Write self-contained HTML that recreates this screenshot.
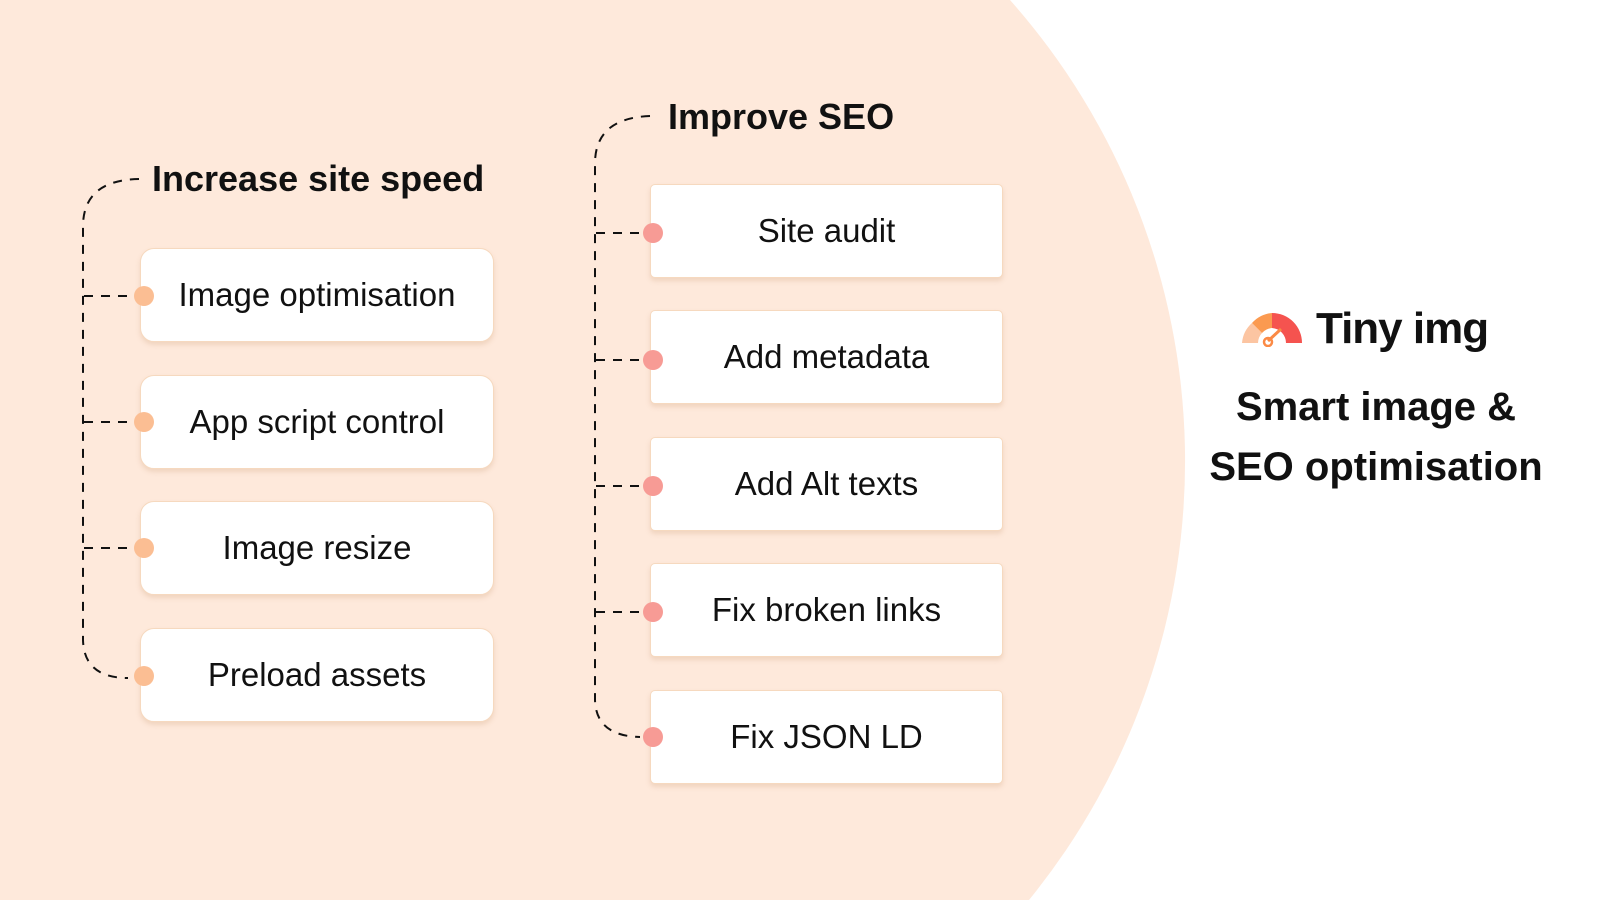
<!DOCTYPE html>
<html><head><meta charset="utf-8"><style>
html,body{margin:0;width:1600px;height:900px;overflow:hidden}
body{background:#fff;font-family:"Liberation Sans",sans-serif;position:relative}
.box{position:absolute;background:#fff;border:1px solid #f6d9bf;box-shadow:0 3px 5px rgba(200,150,110,.25);display:flex;align-items:center;justify-content:center;font-size:33px;color:#111}
.l{left:140px;width:352px;height:92px;border-radius:14px}
.r{left:650px;width:351px;height:92px;border-radius:5px}
.dot{position:absolute;width:20px;height:20px;border-radius:50%}
.h{position:absolute;font-size:36px;font-weight:bold;color:#111;white-space:nowrap}
</style></head><body>
<svg width="1600" height="900" style="position:absolute;left:0;top:0">
<path d="M0 0 H1010 A695 695 0 0 1 1029 900 H0 Z" fill="#fee9db"/>
<g fill="none" stroke="#111" stroke-width="2" stroke-dasharray="9,8">
<path d="M139 179 Q84 180 83 225 L83 640 Q84 678 128 678"/>
<path d="M84 296 H128 M84 422 H128 M84 548 H128"/>
<path d="M650 116 Q596 118 595 162 L595 700 Q596 736 640 737"/>
<path d="M596 233 H640 M596 360 H640 M596 486 H640 M596 612 H640"/>
</g></svg>
<div class="h" style="left:152px;top:158px">Increase site speed</div>
<div class="h" style="left:668px;top:96px">Improve SEO</div>
<div class="box l" style="top:248px">Image optimisation</div>
<div class="box l" style="top:375px">App script control</div>
<div class="box l" style="top:501px">Image resize</div>
<div class="box l" style="top:628px">Preload assets</div>
<div class="dot" style="left:134px;top:286px;background:#fbbe93"></div>
<div class="dot" style="left:134px;top:412px;background:#fbbe93"></div>
<div class="dot" style="left:134px;top:538px;background:#fbbe93"></div>
<div class="dot" style="left:134px;top:666px;background:#fbbe93"></div>
<div class="box r" style="top:184px">Site audit</div>
<div class="box r" style="top:310px">Add metadata</div>
<div class="box r" style="top:437px">Add Alt texts</div>
<div class="box r" style="top:563px">Fix broken links</div>
<div class="box r" style="top:690px">Fix JSON LD</div>
<div class="dot" style="left:643px;top:223px;background:#f79b95"></div>
<div class="dot" style="left:643px;top:350px;background:#f79b95"></div>
<div class="dot" style="left:643px;top:476px;background:#f79b95"></div>
<div class="dot" style="left:643px;top:602px;background:#f79b95"></div>
<div class="dot" style="left:643px;top:727px;background:#f79b95"></div>
<svg width="64" height="36" style="position:absolute;left:1240px;top:311px" viewBox="0 0 64 36">
<path d="M2 32 A30 30 0 0 1 12 12 L22 22 A15 15 0 0 0 18 32 Z" fill="#fcc5a2"/>
<path d="M12 12 A30 30 0 0 1 32 2 L32 17 A15 15 0 0 0 22 22 Z" fill="#fb9a50"/>
<path d="M32 2 A30 30 0 0 1 62 32 L46 32 A15 15 0 0 0 32 17 Z" fill="#f5534f"/>
<path d="M28 30 L41 18" stroke="#fb8a45" stroke-width="3"/><circle cx="28" cy="31" r="4" fill="none" stroke="#fb8a45" stroke-width="2.5"/>
</svg>
<div style="position:absolute;left:1316px;top:304px;font-size:44px;font-weight:bold;color:#111;letter-spacing:-1px">Tiny img</div>
<div style="position:absolute;left:1186px;width:380px;top:377px;text-align:center;font-size:40px;font-weight:bold;color:#111;line-height:60px">Smart image &amp;<br>SEO optimisation</div>
</body></html>
